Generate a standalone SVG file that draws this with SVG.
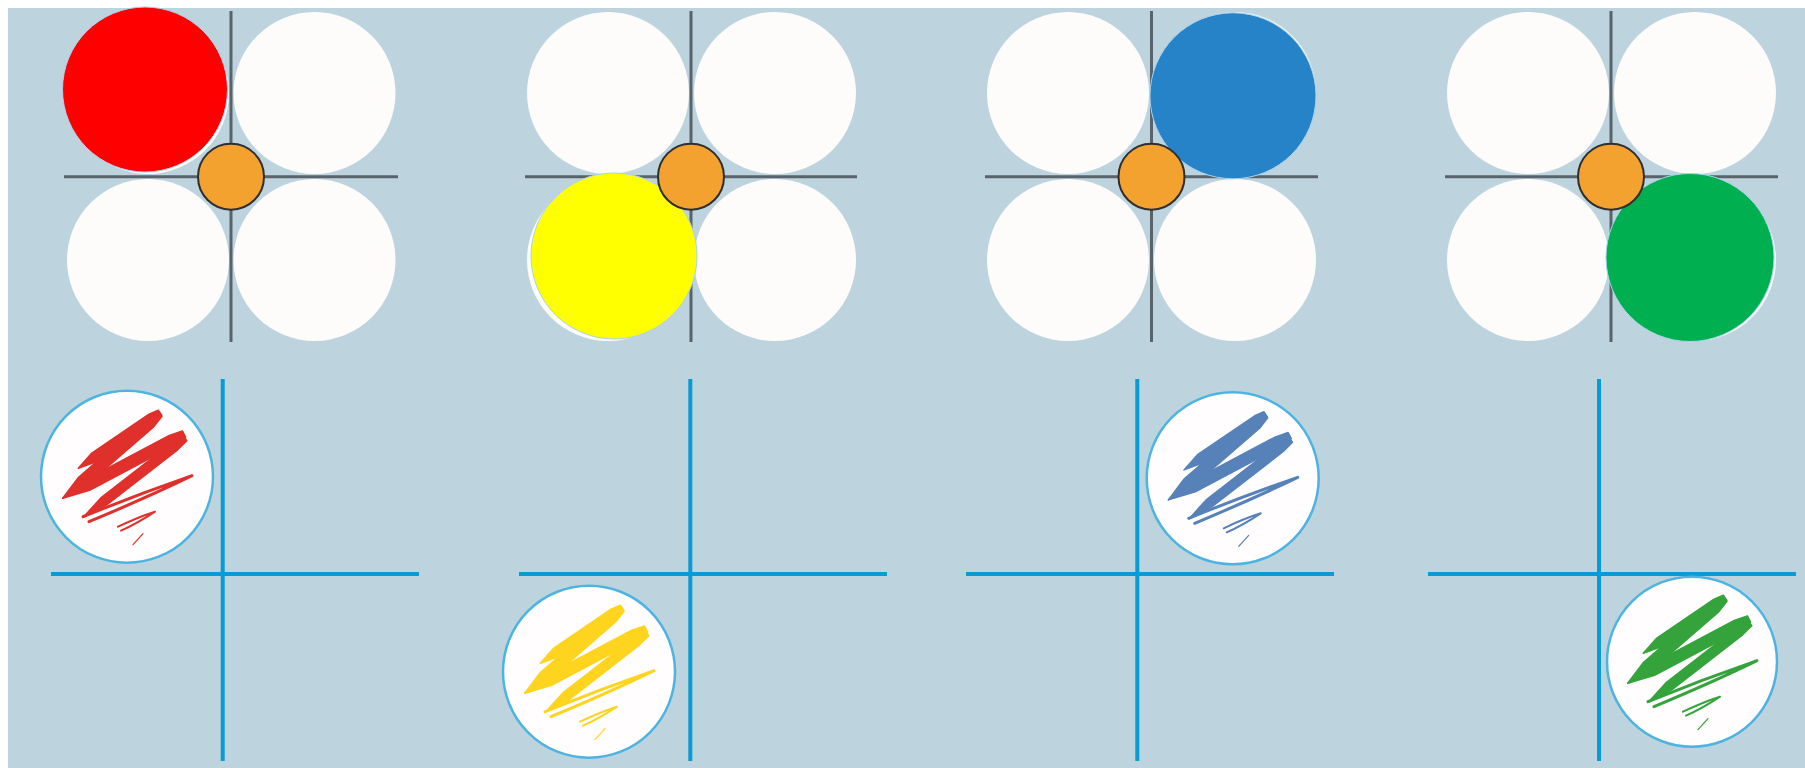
<svg xmlns="http://www.w3.org/2000/svg" xmlns:xlink="http://www.w3.org/1999/xlink" width="1805" height="768" viewBox="0 0 1805 768">
<style>
.bg{fill:#BDD4DF}
.axis{stroke:#58636B;stroke-width:3;fill:none}
.baxis{stroke:#099BD3;stroke-width:4;fill:none}
.seat{fill:#FDFCFA}
.hub{fill:#F3A12F;stroke:#2F2F2F;stroke-width:2}
.piece{stroke:#A9D3EE;stroke-width:1}
.token{fill:#FFFDFD;stroke:#4DB3E1;stroke-width:2.5}
.sc{fill:currentColor;stroke:currentColor;stroke-width:1.5;stroke-linecap:round;stroke-linejoin:round}
.sl{fill:none;stroke:currentColor;stroke-linecap:round;stroke-linejoin:round}
</style>
<defs>
<g id="scribble">
<polygon class="sc" points="-48.7,-8.4 -35.2,-23.6 22,-62.5 31.3,-66.5 34.7,-61.5 27.6,-54.3 -29.6,-15.4"/>
<polygon class="sc" points="31,-65 19.7,-58.5 -48.4,0.5 -64.3,21.6 -41.2,8.9 26.9,-50.1 35,-60.4"/>
<polygon class="sc" points="-64.3,21.6 -42.6,3.8 42.3,-41.2 55.4,-45.8 58.6,-39.6 47.5,-31.4 -37.4,13.6"/>
<polygon class="sc" points="56.2,-40.8 45,-34.1 -26.2,21.2 -43.7,40.6 -20.6,28.4 50.6,-26.9 59.8,-36"/>
<path class="sl" stroke-width="3" d="M-44,40 Q10,18 65,-1 Q22,20 -38,45"/>
<path class="sl" stroke-width="2" d="M-9,50 Q12,40 28,35 Q10,47 -6,54"/>
<path class="sl" stroke-width="1.2" d="M6,68 L16,57"/>
</g>
</defs>
<rect x="0" y="0" width="1805" height="768" fill="#FFFFFF"/>
<rect class="bg" x="8" y="8" width="1797" height="760"/>

<g id="connectors">
<path class="axis" d="M231,11 V342 M64,176.7 H398"/>
<path class="axis" d="M691,11 V342 M525,176.7 H857"/>
<path class="axis" d="M1151.5,11 V342 M985,176.7 H1318"/>
<path class="axis" d="M1611,11 V342 M1445,176.7 H1778"/>
<path class="baxis" d="M222.7,379 V761 M51,574 H419"/>
<path class="baxis" d="M690.3,379 V761 M519,574 H887"/>
<path class="baxis" d="M1137.3,379 V761 M966,574 H1334"/>
<path class="baxis" d="M1599,379 V761 M1428,574 H1796"/>
</g>

<g id="panel1">
<circle class="seat" cx="148" cy="93" r="81"/>
<circle class="seat" cx="314.5" cy="93" r="81"/>
<circle class="seat" cx="148" cy="260" r="81"/>
<circle class="seat" cx="314.5" cy="260" r="81"/>
<circle id="red-piece" class="piece" cx="145" cy="89.5" r="82.5" fill="#FF0000"/>
<circle id="hub1" class="hub" cx="231" cy="176.7" r="33"/>
</g>
<g id="panel2">
<circle class="seat" cx="608" cy="93" r="81"/>
<circle class="seat" cx="775" cy="93" r="81"/>
<circle class="seat" cx="608" cy="260" r="81"/>
<circle class="seat" cx="775" cy="260" r="81"/>
<circle id="yellow-piece" class="piece" cx="614" cy="256" r="83" fill="#FFFF00"/>
<circle id="hub2" class="hub" cx="691" cy="176.7" r="33"/>
</g>
<g id="panel3">
<circle class="seat" cx="1068" cy="93" r="81"/>
<circle class="seat" cx="1235" cy="93" r="81"/>
<circle class="seat" cx="1068" cy="260" r="81"/>
<circle class="seat" cx="1235" cy="260" r="81"/>
<circle id="blue-piece" class="piece" cx="1233" cy="95.8" r="83" fill="#2783C7"/>
<circle id="hub3" class="hub" cx="1151.5" cy="176.7" r="33"/>
</g>
<g id="panel4">
<circle class="seat" cx="1528" cy="93" r="81"/>
<circle class="seat" cx="1695" cy="93" r="81"/>
<circle class="seat" cx="1528" cy="260" r="81"/>
<circle class="seat" cx="1695" cy="260" r="81"/>
<circle id="green-piece" class="piece" cx="1690" cy="257.5" r="84" fill="#00AF50"/>
<circle id="hub4" class="hub" cx="1611" cy="176.7" r="33"/>
</g>

<g id="token-red">
<circle class="token" cx="127" cy="476.7" r="86"/>
<use xlink:href="#scribble" href="#scribble" x="127" y="476.7" style="color:#E0302B"/>
</g>
<g id="token-yellow">
<circle class="token" cx="589" cy="671.7" r="86"/>
<use xlink:href="#scribble" href="#scribble" x="589" y="671.7" style="color:#FFD41F"/>
</g>
<g id="token-blue">
<circle class="token" cx="1232.7" cy="478.3" r="86"/>
<use xlink:href="#scribble" href="#scribble" x="1232.7" y="478.3" style="color:#5781B9"/>
</g>
<g id="token-green">
<circle class="token" cx="1692" cy="661.7" r="85"/>
<use xlink:href="#scribble" href="#scribble" x="1692" y="661.7" style="color:#34A33B"/>
</g>
</svg>
